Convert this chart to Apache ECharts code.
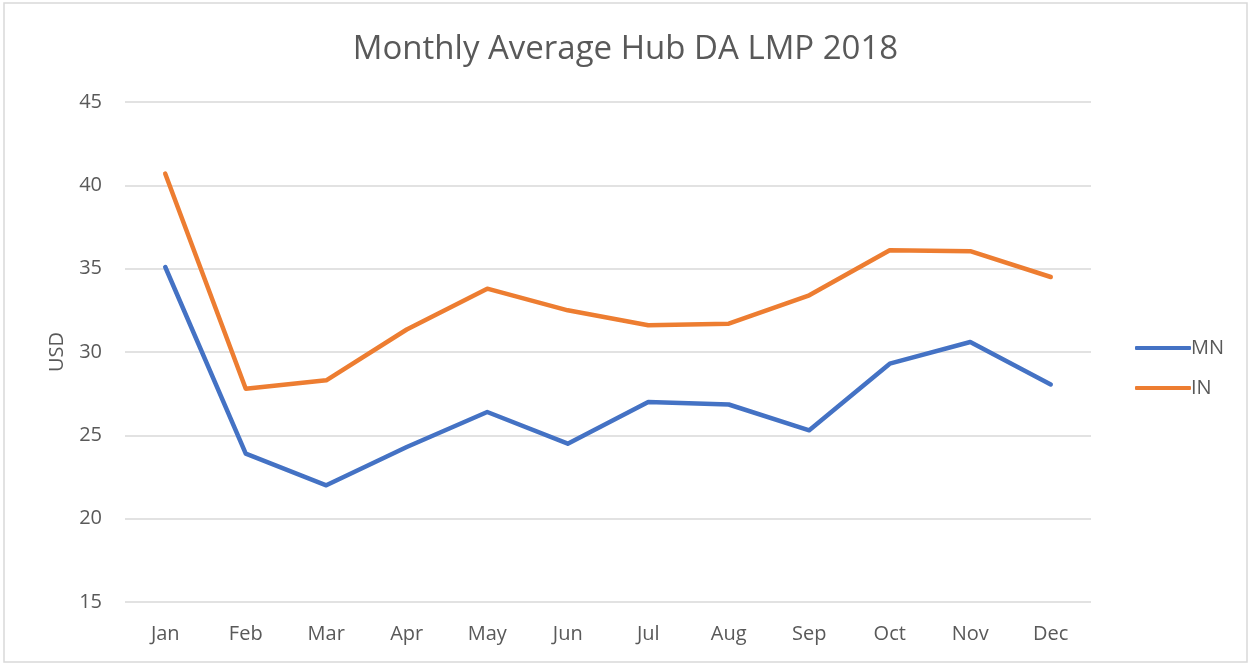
<!DOCTYPE html>
<html>
<head>
<meta charset="utf-8">
<script src="https://cdn.jsdelivr.net/npm/echarts@6/dist/echarts.min.js"></script>
<style>
  html, body { margin: 0; padding: 0; background: #ffffff; }
  #main { width: 1251px; height: 665px; }
</style>
</head>
<body>
<div id="main"></div>
<script>
var months = ["Jan", "Feb", "Mar", "Apr", "May", "Jun", "Jul", "Aug", "Sep", "Oct", "Nov", "Dec"];
var mnValues = [35.1, 23.9, 22.0, 24.3, 26.4, 24.5, 27.0, 26.85, 25.3, 29.3, 30.6, 28.05];
var inValues = [40.7, 27.8, 28.3, 31.35, 33.8, 32.5, 31.6, 31.7, 33.4, 36.1, 36.05, 34.5];
var yTicks = { min: 15, max: 45, interval: 5 };

var chartDom = document.getElementById("main");
var myChart = echarts.init(chartDom);
var textColor = "#595959";
var fontFamily = "'Open Sans', 'Noto Sans', sans-serif";

var option = {
  animation: false,
  backgroundColor: "#ffffff",
  graphic: [
    {
      type: "rect",
      shape: { x: 4, y: 3, width: 1243, height: 659 },
      style: { fill: "none", stroke: "#d9d9d9", lineWidth: 1.5 },
      silent: true,
    },
  ],
  title: {
    text: "Monthly Average Hub DA LMP 2018",
    left: "center",
    top: 28,
    textStyle: {
      color: textColor,
      fontSize: 33,
      fontWeight: "normal",
      fontFamily: fontFamily,
    },
  },
  legend: {
    orient: "vertical",
    left: 1130,
    top: 333,
    itemWidth: 56,
    itemHeight: 4,
    itemGap: 20,
    icon: "roundRect",
    textStyle: { color: textColor, fontSize: 20, fontFamily: fontFamily, padding: [0, 0, 0, -5] },
    data: ["MN", "IN"],
  },
  grid: { left: 125, right: 160, top: 102, bottom: 63, containLabel: false },
  xAxis: {
    type: "category",
    data: months,
    boundaryGap: true,
    axisLine: { show: false },
    axisTick: { show: false },
    axisLabel: { color: textColor, fontSize: 20, fontFamily: fontFamily, margin: 22 },
  },
  yAxis: {
    type: "value",
    name: "USD",
    nameLocation: "middle",
    nameGap: 58,
    nameRotate: 90,
    nameTextStyle: { color: textColor, fontSize: 20, fontFamily: fontFamily },
    min: yTicks.min,
    max: yTicks.max,
    interval: yTicks.interval,
    axisLine: { show: false },
    axisTick: { show: false },
    axisLabel: { color: textColor, fontSize: 20, fontFamily: fontFamily, margin: 23 },
    splitLine: { lineStyle: { color: "#d9d9d9", width: 1.5 } },
  },
  series: [
    {
      name: "MN",
      type: "line",
      data: mnValues,
      symbol: "none",
      color: "#4472c4",
      lineStyle: { width: 4.5, color: "#4472c4", cap: "round", join: "round" },
    },
    {
      name: "IN",
      type: "line",
      data: inValues,
      symbol: "none",
      color: "#ed7d31",
      lineStyle: { width: 4.5, color: "#ed7d31", cap: "round", join: "round" },
    },
  ],
};

option && myChart.setOption(option);
</script>
</body>
</html>
